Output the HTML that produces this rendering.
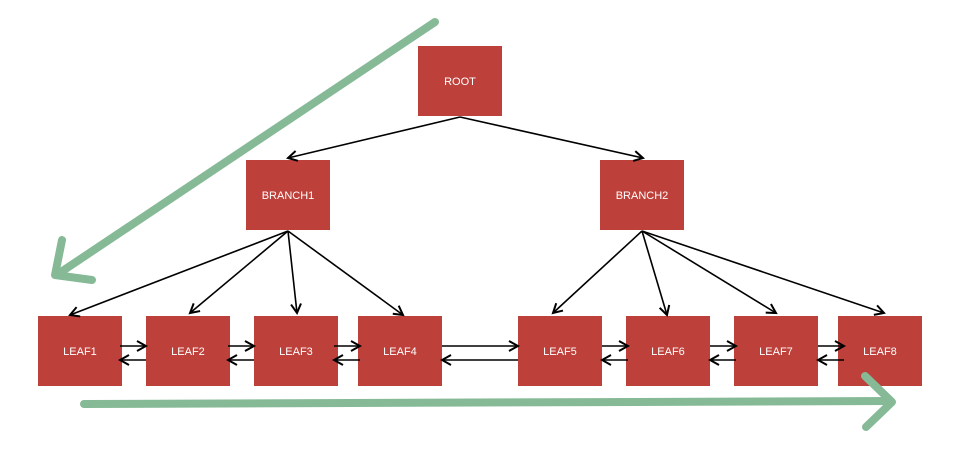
<!DOCTYPE html>
<html><head><style>
body{margin:0;background:#fff;}
</style></head><body>
<svg width="958" height="450" xmlns="http://www.w3.org/2000/svg" style="display:block">
<defs>
<marker id="a" markerWidth="12" markerHeight="12" refX="10" refY="6" orient="auto" markerUnits="userSpaceOnUse">
<path d="M1,1 L10,6 L1,11" fill="none" stroke="#000" stroke-width="2"/>
</marker>
</defs>
<g fill="#be403a">
<rect x="418" y="46" width="84" height="70"/>
<rect x="246" y="160" width="84" height="70"/>
<rect x="600" y="160" width="84" height="70"/>
<rect x="38" y="316" width="84" height="70"/>
<rect x="146" y="316" width="84" height="70"/>
<rect x="254" y="316" width="84" height="70"/>
<rect x="358" y="316" width="84" height="70"/>
<rect x="518" y="316" width="84" height="70"/>
<rect x="626" y="316" width="84" height="70"/>
<rect x="734" y="316" width="84" height="70"/>
<rect x="838" y="316" width="84" height="70"/>
</g>
<g fill="#fff" font-family="Liberation Sans, sans-serif" font-size="11" text-anchor="middle">
<text x="460" y="85">ROOT</text>
<text x="288" y="199">BRANCH1</text>
<text x="642" y="199">BRANCH2</text>
<text x="80" y="355">LEAF1</text>
<text x="188" y="355">LEAF2</text>
<text x="296" y="355">LEAF3</text>
<text x="400" y="355">LEAF4</text>
<text x="560" y="355">LEAF5</text>
<text x="668" y="355">LEAF6</text>
<text x="776" y="355">LEAF7</text>
<text x="880" y="355">LEAF8</text>
</g>
<g stroke="#000" stroke-width="1.6" fill="none" marker-end="url(#a)">
<line x1="460" y1="117" x2="288" y2="158"/>
<line x1="460" y1="117" x2="643" y2="158"/>
<line x1="288" y1="231" x2="70" y2="315"/>
<line x1="288" y1="231" x2="190" y2="313"/>
<line x1="288" y1="231" x2="297" y2="313"/>
<line x1="288" y1="231" x2="403" y2="315"/>
<line x1="642" y1="231" x2="553" y2="313"/>
<line x1="642" y1="231" x2="667" y2="315"/>
<line x1="642" y1="231" x2="776" y2="313"/>
<line x1="642" y1="231" x2="884" y2="313"/>
<line x1="120" y1="346" x2="146" y2="346"/>
<line x1="146" y1="360" x2="120" y2="360"/>
<line x1="228" y1="346" x2="254" y2="346"/>
<line x1="254" y1="360" x2="228" y2="360"/>
<line x1="334" y1="346" x2="360" y2="346"/>
<line x1="360" y1="360" x2="334" y2="360"/>
<line x1="442" y1="346" x2="518" y2="346"/>
<line x1="518" y1="360" x2="442" y2="360"/>
<line x1="602" y1="346" x2="628" y2="346"/>
<line x1="628" y1="360" x2="602" y2="360"/>
<line x1="710" y1="346" x2="736" y2="346"/>
<line x1="736" y1="360" x2="710" y2="360"/>
<line x1="818" y1="346" x2="844" y2="346"/>
<line x1="844" y1="360" x2="818" y2="360"/>
</g>
<g stroke="#86ba96" stroke-width="8" fill="none" stroke-linecap="round" stroke-linejoin="round">
<line x1="435" y1="22" x2="58" y2="274"/>
<polyline points="62,240 55,275 92,280"/>
<line x1="84" y1="404" x2="890" y2="401"/>
<polyline points="865,376 892,402 866,427"/>
</g>
</svg>
</body></html>
